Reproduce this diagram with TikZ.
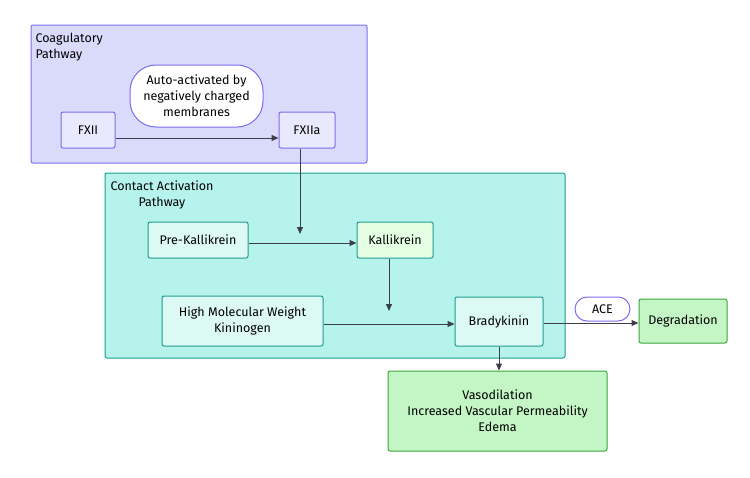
\documentclass[tikz,border=0pt]{standalone}
\usepackage{fontspec}
\setmainfont{Fira Sans}
\usetikzlibrary{arrows.meta}
\definecolor{coagfill}{HTML}{DADAFB}
\definecolor{coagline}{HTML}{7C6DF0}
\definecolor{contfill}{HTML}{B5F3EC}
\definecolor{contline}{HTML}{1F9E8E}
\definecolor{nodefill}{HTML}{DCF9F4}
\definecolor{greenfill}{HTML}{C4F5C4}
\definecolor{greenline}{HTML}{3BA83B}
\definecolor{arrowcol}{HTML}{3A3F4B}
\begin{document}
\begin{tikzpicture}[x=1pt,y=-1pt,
    every node/.style={font=\fontsize{12.5}{16}\selectfont, align=center},
    purplebox/.style={draw=coagline, fill=coagfill!60, rounded corners=2pt, line width=1pt},
    stadium/.style={draw=coagline, fill=white, rounded corners=12pt, line width=1pt},
    tealbox/.style={draw=contline, fill=nodefill, rounded corners=2pt, line width=1pt},
    greenbox/.style={draw=greenline, fill=greenfill, rounded corners=2pt, line width=1pt},
    conn/.style={draw=arrowcol, line width=1pt, -{Triangle[length=7pt,width=6pt]}}]
  \useasboundingbox (0,0) rectangle (750,477);
  % groups
  \draw[draw=coagline, fill=coagfill, line width=1pt, rounded corners=2pt] (31,25) rectangle (367,163);
  \node[anchor=north west, align=left] (coaglabel) at (32,30) {Coagulatory\\Pathway};
  \draw[draw=contline, fill=contfill, line width=1pt, rounded corners=2pt] (105,173) rectangle (565,358);
  \node[anchor=north west, align=left] (contlabel) at (107,177) {Contact Activation\\\hspace*{28pt}Pathway};
  % nodes
  \node[purplebox, minimum width=54pt, minimum height=36pt] (fxii) at (88,130) {FXII};
  \node[purplebox, minimum width=56pt, minimum height=36pt] (fxiia) at (307,130) {FXIIa};
  \node[stadium, minimum width=133pt, minimum height=62pt, rounded corners=26pt] (auto) at (196.5,96) {Auto-activated by\\negatively charged\\membranes};
  \node[tealbox, minimum width=100pt, minimum height=36pt] (prek) at (198,240) {Pre-Kallikrein};
  \node[tealbox, fill=green!10, minimum width=76pt, minimum height=36pt] (kall) at (395,240) {Kallikrein};
  \node[tealbox, minimum width=161pt, minimum height=50pt] (hmwk) at (242.5,321) {High Molecular Weight\\Kininogen};
  \node[tealbox, minimum width=88pt, minimum height=49pt] (brady) at (499,321.5) {Bradykinin};
  \node[stadium, minimum width=55pt, minimum height=24pt] (ace) at (602.5,309) {ACE};
  \node[greenbox, minimum width=88pt, minimum height=44pt] (degr) at (683,321) {Degradation};
  \node[greenbox, minimum width=219pt, minimum height=80pt] (effects) at (497.5,411) {Vasodilation\\Increased Vascular Permeability\\Edema};
  \coordinate (kjoin) at (300,243);
  \coordinate (bjoin) at (389,324);
  % connectors
  \draw[conn] (fxii.east |- 0,138) -- (fxiia.west |- 0,138);
  \draw[conn] (fxiia.south -| kjoin) -- ([yshift=9pt]kjoin);
  \draw[conn] (prek.east |- kjoin) -- (kall.west |- kjoin);
  \draw[conn] (kall.south -| bjoin) -- ([yshift=13pt]bjoin);
  \draw[conn] (hmwk.east |- bjoin) -- (brady.west |- bjoin);
  \draw[conn] (brady.east |- 0,323) -- (degr.west |- 0,323);
  \draw[conn] (brady.south) -- (effects.north -| brady.south);
\end{tikzpicture}
\end{document}
